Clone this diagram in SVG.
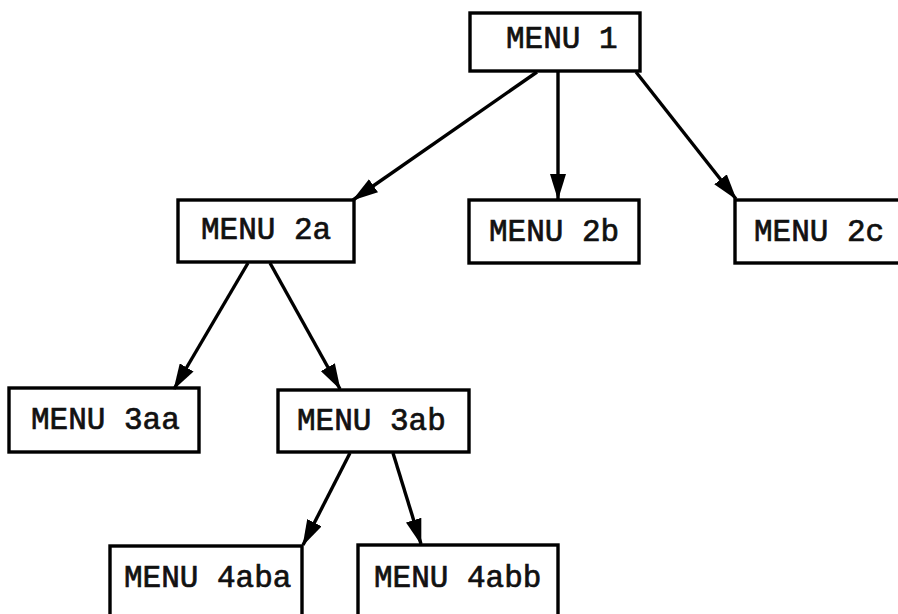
<svg xmlns="http://www.w3.org/2000/svg" width="898" height="614" viewBox="0 0 898 614">
<style>
.box{fill:none;stroke:#000;stroke-width:3.4}
.lbl{font-family:"Liberation Mono","Courier New",monospace;font-size:31px;fill:#111;stroke:#111;stroke-width:0.7}
.edge{stroke:#000;stroke-width:3.4;fill:none;marker-end:url(#ah)}
</style>
<defs>
<marker id="ah" markerUnits="userSpaceOnUse" viewBox="0 0 26 16" refX="25" refY="8" markerWidth="26" markerHeight="16" orient="auto">
<path d="M0,0 L26,8 L0,16 Z" fill="#000"/>
</marker>
</defs>
<rect width="898" height="614" fill="#fff"/>
<g id="connectors">
<line class="edge" x1="537" y1="72" x2="353" y2="200"/>
<line class="edge" x1="558" y1="72" x2="558" y2="199"/>
<line class="edge" x1="636" y1="72" x2="736" y2="199"/>
<line class="edge" x1="248" y1="263" x2="174" y2="389"/>
<line class="edge" x1="270" y1="263" x2="340" y2="389"/>
<line class="edge" x1="350" y1="453" x2="303" y2="545"/>
<line class="edge" x1="393" y1="453" x2="421" y2="544"/>
</g>
<g id="menu1"><rect class="box" x="470" y="13" width="170" height="58"/><text class="lbl" x="506" y="48">MENU 1</text></g>
<g id="menu2a"><rect class="box" x="178" y="200" width="176" height="62"/><text class="lbl" x="201" y="239">MENU 2a</text></g>
<g id="menu2b"><rect class="box" x="469" y="200" width="170" height="63"/><text class="lbl" x="489" y="241">MENU 2b</text></g>
<g id="menu2c"><rect class="box" x="735" y="200" width="180" height="63"/><text class="lbl" x="754" y="241">MENU 2c</text></g>
<g id="menu3aa"><rect class="box" x="9" y="388" width="190" height="64"/><text class="lbl" x="31" y="429">MENU 3aa</text></g>
<g id="menu3ab"><rect class="box" x="278" y="390" width="191" height="62"/><text class="lbl" x="297" y="430">MENU 3ab</text></g>
<g id="menu4aba"><rect class="box" x="110" y="546" width="192" height="80"/><text class="lbl" x="124" y="587">MENU 4aba</text></g>
<g id="menu4abb"><rect class="box" x="358" y="545" width="200" height="80"/><text class="lbl" x="374" y="587">MENU 4abb</text></g>
</svg>
